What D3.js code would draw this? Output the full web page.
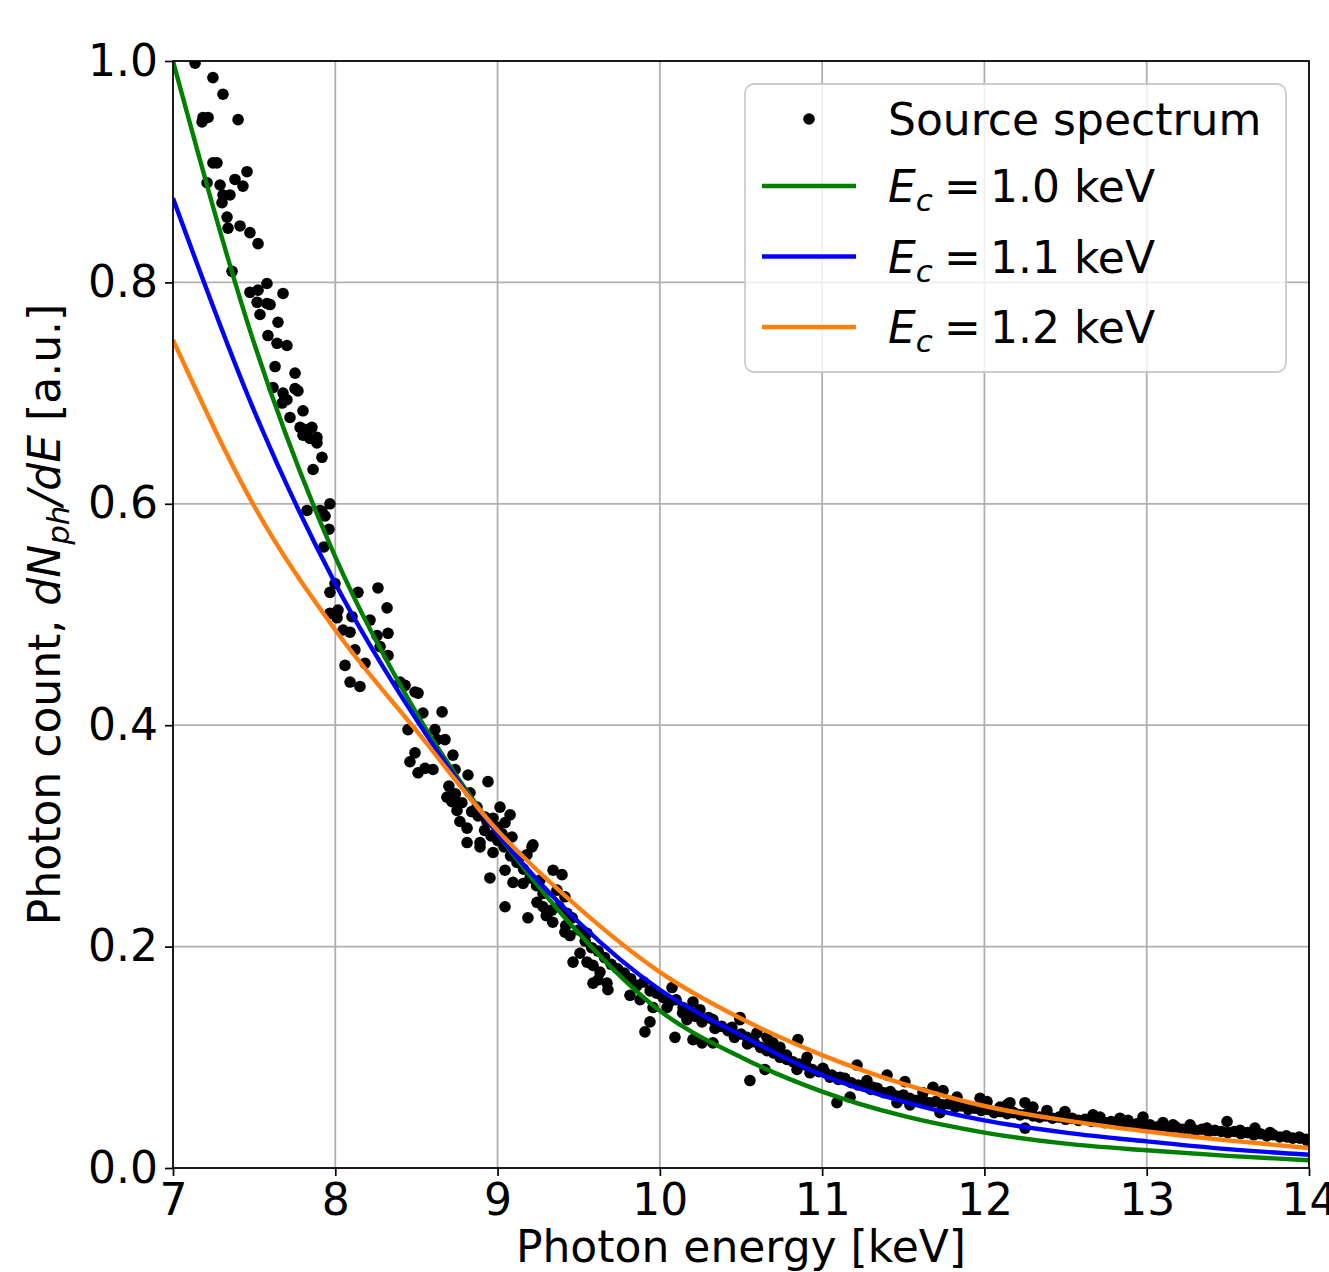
<!DOCTYPE html>
<html>
<head>
<meta charset="utf-8">
<script src="https://cdnjs.cloudflare.com/ajax/libs/d3/7.8.5/d3.min.js"></script>
<style>
  body { margin: 0; background: #fff; }
  svg { display: block; font-family: "DejaVu Sans", sans-serif; }
</style>
</head>
<body>
<script>
// measured source spectrum (photon energy in keV, counts in a.u.)
const photonEnergy = [
  7.136, 7.179, 7.185, 7.210, 7.216, 7.246, 7.246, 7.271, 7.290, 7.302,
  7.308, 7.308, 7.333, 7.339, 7.351, 7.364, 7.382, 7.401, 7.413, 7.431,
  7.456, 7.474, 7.474, 7.518, 7.524, 7.524, 7.536, 7.579, 7.579, 7.585,
  7.598, 7.616, 7.629, 7.641, 7.647, 7.672, 7.678, 7.678, 7.702, 7.702,
  7.721, 7.752, 7.752, 7.770, 7.783, 7.801, 7.801, 7.826, 7.826, 7.844,
  7.856, 7.863, 7.887, 7.887, 7.906, 7.918, 7.918, 7.930, 7.937, 7.961,
  7.967, 7.967, 7.967, 7.998, 8.011, 8.017, 8.048, 8.060, 8.091, 8.091,
  8.103, 8.121, 8.140, 8.152, 8.183, 8.214, 8.257, 8.263, 8.276, 8.319,
  8.325, 8.325, 8.399, 8.430, 8.448, 8.460, 8.491, 8.491, 8.510, 8.510,
  8.540, 8.553, 8.602, 8.614, 8.627, 8.658, 8.676, 8.688, 8.719, 8.725,
  8.738, 8.750, 8.768, 8.812, 8.812, 8.818, 8.830, 8.873, 8.892, 8.892,
  8.923, 8.935, 8.941, 8.953, 8.972, 8.972, 8.996, 9.015, 9.027, 9.046,
  9.046, 9.046, 9.077, 9.089, 9.095, 9.138, 9.157, 9.181, 9.187, 9.212,
  9.218, 9.243, 9.261, 9.280, 9.304, 9.335, 9.342, 9.366, 9.397, 9.415,
  9.415, 9.428, 9.446, 9.465, 9.508, 9.551, 9.551, 9.588, 9.588, 9.619,
  9.631, 9.674, 9.680, 9.816, 9.878, 9.908, 9.939, 9.958, 10.044, 10.075,
  10.093, 10.143, 10.167, 10.204, 10.204, 10.247, 10.260, 10.327, 10.327, 10.444,
  10.494, 10.494, 10.537, 10.555, 10.598, 10.648, 10.660, 10.679, 10.697, 10.740,
  10.783, 10.845, 10.851, 10.907, 10.925, 11.005, 11.048, 11.091, 11.110, 11.172,
  11.215, 11.276, 11.313, 11.400, 11.461, 11.510, 11.541, 11.621, 11.683, 11.726,
  11.745, 11.831, 11.973, 12.016, 12.096, 12.139, 12.157, 12.250, 12.250, 12.299,
  12.385, 12.496, 12.669, 12.712, 12.835, 12.885, 12.977, 13.100, 13.162, 13.267,
  13.371, 13.495, 13.575, 13.667, 13.760, 13.864, 13.944, 13.988,
  8.70, 8.74, 8.78, 8.84, 8.88, 8.92, 8.96, 9.00, 9.04, 9.08,
  9.12, 9.16, 9.20, 9.24, 9.28, 9.30, 9.34, 9.38, 9.42, 9.46,
  9.50, 9.54, 9.58, 9.62, 9.66, 9.70, 9.74, 9.78, 9.82, 9.86,
  9.90, 9.94, 9.98, 10.02, 10.06, 10.10, 10.14, 10.18, 10.22, 10.26,
  10.30, 10.34, 10.38, 10.42, 10.46, 10.50, 10.54, 10.58, 10.62, 10.66,
  10.70, 10.74, 10.78, 10.82, 10.86, 10.90, 10.94, 10.98, 11.02, 11.06,
  11.10, 11.14, 11.18, 11.22, 11.26, 11.30, 11.34, 11.38, 11.42, 11.46,
  11.50, 11.54, 11.58, 11.62, 11.66, 11.70, 11.74, 11.78, 11.82, 11.86,
  11.90, 11.94, 11.98, 12.02, 12.06, 12.10, 12.14, 12.18, 12.22, 12.26,
  12.30, 12.34, 12.38, 12.42, 12.46, 12.50, 12.54, 12.58, 12.62, 12.66,
  12.70, 12.74, 12.78, 12.82, 12.86, 12.90, 12.94, 12.98, 13.02, 13.06,
  13.10, 13.14, 13.18, 13.22, 13.26, 13.30, 13.34, 13.38, 13.42, 13.46,
  13.50, 13.54, 13.58, 13.62, 13.66, 13.70, 13.74, 13.78, 13.82, 13.86,
  13.90, 13.94, 13.98
];
const photonCount = [
  .998, .945, .949, .890, .949, .985, .908, .908, .888, .872,
  .970, .879, .859, .849, .879, .810, .893, .947, .851, .887,
  .900, .845, .791, .782, .835, .793, .771, .799, .781, .752,
  .780, .705, .724, .745, .764, .691, .790, .700, .743, .694,
  .678, .718, .704, .702, .669, .684, .662, .667, .594, .659,
  .669, .631, .660, .655, .594, .642, .593, .561, .589, .577,
  .600, .520, .501, .528, .497, .504, .486, .454, .484, .439,
  .498, .468, .520, .435, .456, .495, .481, .524, .471, .506,
  .483, .463, .439, .436, .396, .367, .430, .375, .429, .357,
  .411, .361, .360, .396, .387, .412, .387, .335, .331, .373,
  .360, .323, .313, .307, .294, .355, .339, .326, .294, .290,
  .317, .313, .349, .262, .316, .285, .308, .326, .302, .312,
  .269, .236, .319, .299, .258, .281, .257, .283, .226, .290,
  .292, .240, .260, .236, .229, .233, .269, .251, .265, .245,
  .213, .230, .210, .186, .194, .212, .186, .183, .167, .170,
  .177, .167, .161, .156, .152, .123, .132, .145, .145, .163,
  .118, .145, .134, .150, .116, .143, .113, .134, .113, .127,
  .134, .136, .118, .079, .122, .089, .118, .113, .113, .109,
  .098, .089, .116, .100, .086, .090, .082, .059, .082, .064,
  .093, .079, .073, .084, .059, .078, .057, .068, .073, .050,
  .070, .064, .063, .060, .055, .057, .059, .059, .036, .055,
  .052, .051, .048, .046, .045, .043, .046, .041, .039, .039,
  .036, .042, .034, .036, .032, .028, .027, .025,
  .345, .338, .330, .322, .318, .305, .300, .296, .290, .282,
  .276, .270, .262, .255, .248, .228, .222, .236, .219, .226,
  .215, .205, .199, .196, .190, .184, .180, .176, .171, .165,
  .168, .160, .158, .154, .150, .152, .140, .142, .137, .132,
  .136, .126, .128, .124, .118, .121, .112, .114, .109, .106,
  .104, .100, .102, .096, .094, .093, .089, .087, .086, .084,
  .080, .081, .077, .075, .074, .071, .072, .068, .069, .065,
  .066, .063, .061, .062, .059, .060, .057, .058, .055, .056,
  .053, .054, .052, .053, .050, .051, .049, .050, .048, .049,
  .047, .046, .047, .045, .046, .044, .045, .043, .044, .042,
  .043, .041, .042, .040, .041, .039, .040, .038, .039, .037,
  .038, .036, .037, .035, .036, .034, .035, .033, .034, .033,
  .032, .033, .031, .032, .030, .031, .029, .030, .028, .029,
  .027, .028, .026
];

// model curves, one value per fitEnergy
const fitEnergy = [7, 7.5, 8, 8.5, 9, 9.5, 10, 10.5, 11, 11.5, 12, 12.5, 13, 13.5, 14];
const fitEc10 = [1.000, .745, .552, .411, .302, .212, .142, .100, .069, .047, .032, .022, .016, .011, .007];
const fitEc11 = [.876, .684, .528, .405, .302, .222, .161, .120, .084, .060, .043, .032, .024, .017, .012];
const fitEc12 = [.748, .598, .486, .395, .305, .235, .177, .135, .102, .076, .056, .043, .033, .025, .018];

const fitLabels = ["1.0", "1.1", "1.2"];
const fitColors = ["#008000", "#0000ff", "#ff7f0e"];
const xTicks = [7, 8, 9, 10, 11, 12, 13, 14];
const yTicks = [0, 0.2, 0.4, 0.6, 0.8, 1.0];

let width = 1329, height = 1272,
    margin = {top: 61, right: 20, bottom: 104, left: 173};

let xScale = d3.scaleLinear()
    .domain([7, 14])
    .range([margin.left, width - margin.right]);

let yScale = d3.scaleLinear()
    .domain([0, 1])
    .range([height - margin.bottom, margin.top]);

let svg = d3.select("body")
    .append("svg")
    .attr("width", width)
    .attr("height", height);

svg.append("rect")
    .attr("width", width)
    .attr("height", height)
    .attr("fill", "#fff");

svg.append("clipPath")
    .attr("id", "plot-clip")
    .append("rect")
    .attr("x", margin.left)
    .attr("y", margin.top)
    .attr("width", xScale(14) - xScale(7))
    .attr("height", yScale(0) - yScale(1));

// grid
let grid = svg.append("g").attr("class", "grid");
grid.selectAll(".vgrid")
    .data(xTicks)
    .join("line")
    .attr("x1", (d) => xScale(d))
    .attr("x2", (d) => xScale(d))
    .attr("y1", yScale(0))
    .attr("y2", yScale(1))
    .attr("stroke", "#b0b0b0")
    .attr("stroke-width", 1.8);
grid.selectAll(".hgrid")
    .data(yTicks)
    .join("line")
    .attr("x1", xScale(7))
    .attr("x2", xScale(14))
    .attr("y1", (d) => yScale(d))
    .attr("y2", (d) => yScale(d))
    .attr("stroke", "#b0b0b0")
    .attr("stroke-width", 1.8);

let plot = svg.append("g").attr("clip-path", "url(#plot-clip)");

// source spectrum points
let points = photonEnergy.map((e, i) => [e, photonCount[i]]);
plot.selectAll("circle")
    .data(points)
    .join("circle")
    .attr("cx", (d) => xScale(d[0]))
    .attr("cy", (d) => yScale(d[1]))
    .attr("r", 5.8)
    .attr("fill", "#000");

// fitted curves
let line = d3.line()
    .x((d) => xScale(d[0]))
    .y((d) => yScale(d[1]))
    .curve(d3.curveMonotoneX);

[fitEc10, fitEc11, fitEc12].forEach((series, k) => {
    plot.append("path")
        .datum(fitEnergy.map((e, i) => [e, series[i]]))
        .attr("d", line)
        .attr("fill", "none")
        .attr("stroke", fitColors[k])
        .attr("stroke-width", 4.4);
});

// axes
let xAxis = d3.axisBottom(xScale)
    .tickValues(xTicks)
    .tickFormat(d3.format("d"))
    .tickSize(8)
    .tickPadding(8);

let yAxis = d3.axisLeft(yScale)
    .tickValues(yTicks)
    .tickFormat(d3.format(".1f"))
    .tickSize(8)
    .tickPadding(7);

let gx = svg.append("g")
    .attr("transform", `translate(0, ${yScale(0)})`)
    .call(xAxis);
let gy = svg.append("g")
    .attr("transform", `translate(${xScale(7)}, 0)`)
    .call(yAxis);

[gx, gy].forEach((g) => {
    g.select(".domain").remove();
    g.selectAll(".tick line").attr("stroke", "#000").attr("stroke-width", 1.7);
    g.selectAll(".tick text")
        .attr("fill", "#000")
        .style("font-family", "DejaVu Sans")
        .style("font-size", "44px");
});

// frame
svg.append("rect")
    .attr("x", xScale(7))
    .attr("y", yScale(1))
    .attr("width", xScale(14) - xScale(7))
    .attr("height", yScale(0) - yScale(1))
    .attr("fill", "none")
    .attr("stroke", "#000")
    .attr("stroke-width", 1.7);

// axis labels
svg.append("text")
    .attr("x", (xScale(7) + xScale(14)) / 2)
    .attr("y", 1262)
    .attr("text-anchor", "middle")
    .style("font-size", "44px")
    .text("Photon energy [keV]");

let ylab = svg.append("text")
    .attr("transform", `translate(60, ${(yScale(0) + yScale(1)) / 2}) rotate(-90)`)
    .attr("text-anchor", "middle")
    .style("font-size", "44px");
ylab.append("tspan").text("Photon count, ");
ylab.append("tspan").style("font-style", "italic").text("dN");
ylab.append("tspan").style("font-style", "italic").style("font-size", "31px")
    .attr("dy", 9).text("ph");
ylab.append("tspan").style("font-style", "italic").attr("dy", -9).text("/dE");
ylab.append("tspan").text(" [a.u.]");

// legend
let legend = svg.append("g");
legend.append("rect")
    .attr("x", 745)
    .attr("y", 84)
    .attr("width", 541)
    .attr("height", 288)
    .attr("rx", 9)
    .attr("fill", "#fff")
    .attr("fill-opacity", 0.8)
    .attr("stroke", "#cccccc")
    .attr("stroke-width", 1.8);

legend.append("circle")
    .attr("cx", 809)
    .attr("cy", 119)
    .attr("r", 5.8)
    .attr("fill", "#000");
legend.append("text")
    .attr("x", 888)
    .attr("y", 135)
    .style("font-size", "44px")
    .text("Source spectrum");

fitLabels.forEach((lab, k) => {
    let cy = 186 + k * 70.5;
    legend.append("line")
        .attr("x1", 762)
        .attr("x2", 856)
        .attr("y1", cy)
        .attr("y2", cy)
        .attr("stroke", fitColors[k])
        .attr("stroke-width", 4.4);
    let t = legend.append("text")
        .attr("x", 888)
        .attr("y", cy + 16)
        .style("font-size", "44px");
    t.append("tspan").style("font-style", "italic").text("E");
    t.append("tspan").style("font-style", "italic").style("font-size", "31px")
        .attr("dy", 9).text("c");
    t.append("tspan").attr("x", 944).attr("dy", -9).text("=");
    t.append("tspan").attr("x", 990).text(lab + " keV");
});
</script>
</body>
</html>
